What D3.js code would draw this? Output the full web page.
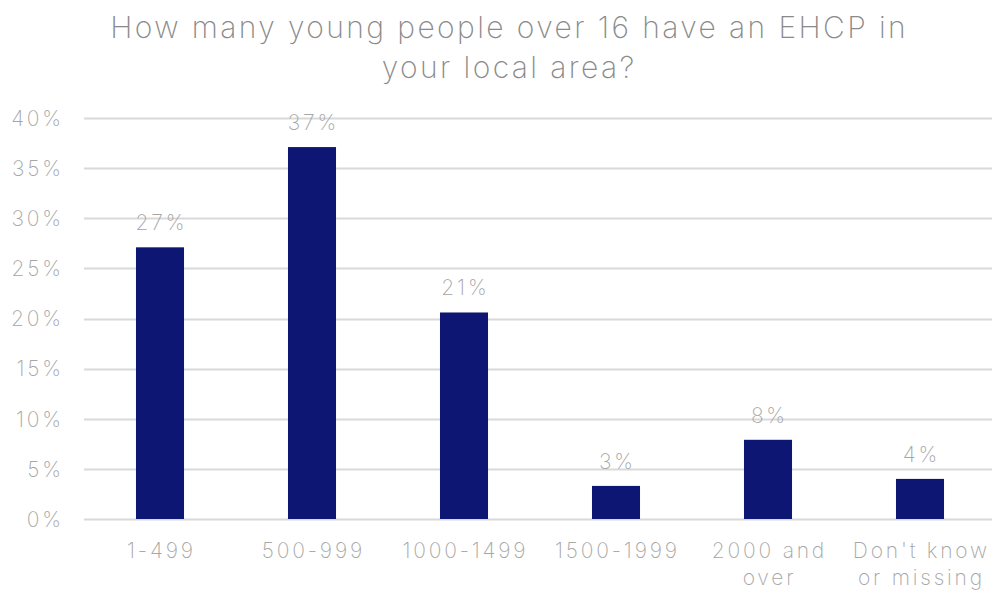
<!DOCTYPE html>
<html>
<head>
<meta charset="utf-8">
<script src="https://cdn.jsdelivr.net/npm/d3@7"></script>
<style>
  html, body { margin: 0; padding: 0; background: #ffffff; }
  svg { display: block; font-family: Inter, "Open Sans", sans-serif; font-weight: 200; }
</style>
</head>
<body>
<svg id="chart" width="992" height="590"></svg>
<script>
// Survey responses: share of local areas by number of over-16s with an EHCP
const categories = ["1-499", "500-999", "1000-1499", "1500-1999", "2000 and over", "Don't know or missing"];
const categoryLines = [["1-499"], ["500-999"], ["1000-1499"], ["1500-1999"], ["2000 and", "over"], ["Don't know", "or missing"]];
const shares = [0.271, 0.371, 0.206, 0.033, 0.079, 0.040];
const yTicks = [0, 0.05, 0.10, 0.15, 0.20, 0.25, 0.30, 0.35, 0.40];
const titleLines = ["How many young people over 16 have an EHCP in", "your local area?"];

const svg = d3.select("#chart");
const margin = { left: 84, right: 996, top: 118, bottom: 519 };
const labelSize = 21;
const labelSpacing = 2.8;
const labelColor = "#a6a6a6";
const titleSpacing = 2.4;

const x = d3.scaleBand()
  .domain(categories)
  .range([margin.left, margin.right])
  .paddingInner(0.684)
  .paddingOuter(0.342);

const y = d3.scaleLinear()
  .domain([0, 0.40])
  .range([margin.bottom, margin.top]);

const pct = d3.format(".0%");

// Title
svg.append("g")
  .selectAll("text")
  .data(titleLines)
  .join("text")
  .attr("x", 508 + titleSpacing / 2)
  .attr("y", (d, i) => 38 + i * 40)
  .attr("text-anchor", "middle")
  .attr("font-size", 30)
  .attr("letter-spacing", titleSpacing)
  .attr("fill", "#8a8a8a")
  .text(d => d);

// Gridlines
svg.append("g")
  .selectAll("line")
  .data(yTicks)
  .join("line")
  .attr("x1", margin.left)
  .attr("x2", margin.right)
  .attr("y1", d => Math.round(y(d)) + 0.5)
  .attr("y2", d => Math.round(y(d)) + 0.5)
  .attr("stroke", "#d9d9d9")
  .attr("stroke-width", 2);

// Y axis labels
const yAxis = d3.axisLeft(y).tickValues(yTicks).tickFormat(pct).tickSize(0).tickPadding(0);
const yg = svg.append("g")
  .attr("transform", `translate(${61 + labelSpacing},0)`)
  .call(yAxis);
yg.select(".domain").remove();
yg.selectAll("text")
  .attr("font-family", "Inter, \"Open Sans\", sans-serif")
  .attr("font-weight", 200)
  .attr("font-size", labelSize)
  .attr("letter-spacing", labelSpacing)
  .attr("fill", labelColor)
  .attr("dy", "0.35em");

// Bars
svg.append("g")
  .selectAll("rect")
  .data(shares)
  .join("rect")
  .attr("x", (d, i) => x(categories[i]))
  .attr("width", x.bandwidth())
  .attr("y", d => y(d))
  .attr("height", d => y(0) - y(d))
  .attr("fill", "#0e1673");

// Value labels
svg.append("g")
  .selectAll("text")
  .data(shares)
  .join("text")
  .attr("x", (d, i) => x(categories[i]) + x.bandwidth() / 2 + labelSpacing / 2)
  .attr("y", d => y(d) - 17)
  .attr("text-anchor", "middle")
  .attr("font-size", labelSize)
  .attr("letter-spacing", labelSpacing)
  .attr("fill", labelColor)
  .text(d => pct(d));

// X axis category labels
const xg = svg.append("g");
categories.forEach((c, i) => {
  const cx = x(c) + x.bandwidth() / 2 + labelSpacing / 2;
  const t = xg.append("text")
    .attr("x", cx)
    .attr("y", 558)
    .attr("text-anchor", "middle")
    .attr("font-size", labelSize)
    .attr("letter-spacing", labelSpacing)
    .attr("fill", labelColor);
  categoryLines[i].forEach((line, j) => {
    t.append("tspan")
      .attr("x", cx)
      .attr("dy", j === 0 ? 0 : 27)
      .text(line);
  });
});
</script>
</body>
</html>
